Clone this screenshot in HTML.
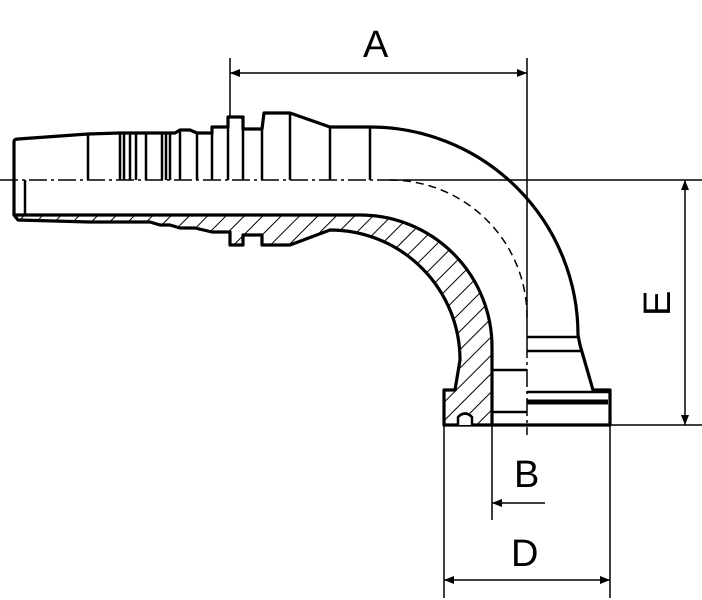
<!DOCTYPE html>
<html><head><meta charset="utf-8"><style>
html,body{margin:0;padding:0;background:#fff;}
svg{display:block;}
text{font-family:"Liberation Sans","DejaVu Sans",sans-serif;font-size:38px;fill:#000;}
</style></head><body>
<svg width="702" height="600" viewBox="0 0 702 600" xmlns="http://www.w3.org/2000/svg">
<defs>
<pattern id="h" patternUnits="userSpaceOnUse" width="13" height="13" patternTransform="rotate(45)">
<line x1="0" y1="0" x2="0" y2="13" stroke="#000" stroke-width="2"/>
</pattern>
<marker id="ar" viewBox="0 0 10 10" refX="10" refY="5" markerWidth="14" markerHeight="10" orient="auto-start-reverse" markerUnits="userSpaceOnUse">
<path d="M0,1 L10,5 L0,9 Z" fill="#000"/>
</marker>
</defs>
<g fill="none" stroke="#000" stroke-width="3.2" stroke-linejoin="round">
<path d="M22,215 L360,215 A132,132 0 0 1 492,347 L492,425 L444,425 L444,390 L455,390 L460,360 A130,130 0 0 0 330,230 L290,245 L262,245 L262,235 L243,235 L243,245 L230,245 L230,232 L212,232 L195,228 L180,228 L170,225 L160,225 L150,222 L90,222 L18,220 L14,215 Z" fill="url(#h)"/>
<path d="M14,215 L14,142 Q14,139 18,139 L88,134 L120,133 L175,133 L180,130 L190,130 L197,133 L212,133 L212,127 L228,127 L228,117 L243,117 L243,129 L262,129 L264,113 L290,113 L330,127 L370,127 A208,208 0 0 1 578,335 L580,345 L593,390 L610,390 L610,425 L492,425"/>
<path d="M88,134V180 M120,133V180 M124,133V180 M130,133V180 M136,133V180 M146,133V180 M162,133V180 M166,133V180 M170,133V180 M180,130V180 M197,133V180 M212,133V180 M228,127V180 M243,129V180 M262,129V180 M290,113V180 M330,127V180 M370,127V180" stroke-width="2.5"/>
<path d="M25,180V215" stroke-width="2.5"/>
<path d="M527,337H580 M527,351H582 M492,370H527 M492,412H527 M527,392H610" stroke-width="2.5"/>
<path d="M527,402H608" stroke-width="5"/>
<path d="M458,425 L458,417 Q465,410 472,417 L472,425" stroke-width="2.5" fill="#fff"/>
</g>
<g fill="none" stroke="#000" stroke-width="1.5" stroke-dasharray="18,4,3,4">
<path d="M0,180 H390"/>
<path d="M527,340 V435"/>
</g>
<path d="M390,180 A137,137 0 0 1 527,317" fill="none" stroke="#000" stroke-width="1.5" stroke-dasharray="8,5"/>
<g stroke="#000" stroke-width="1.5" fill="none">
<path d="M230,58V117 M527,58V340 M390,180H702 M610,425H702 M444,425V598 M610,425V598 M492,425V520"/>
<path d="M230,73H527" marker-start="url(#ar)" marker-end="url(#ar)"/>
<path d="M685,180V425" marker-start="url(#ar)" marker-end="url(#ar)"/>
<path d="M444,580H610" marker-start="url(#ar)" marker-end="url(#ar)"/>
<path d="M545,503H492" marker-end="url(#ar)"/>
</g>
<text x="363" y="57">A</text>
<text x="514" y="487">B</text>
<text x="511" y="566">D</text>
<text transform="translate(670,316) rotate(-90)">E</text>
</svg>
</body></html>
